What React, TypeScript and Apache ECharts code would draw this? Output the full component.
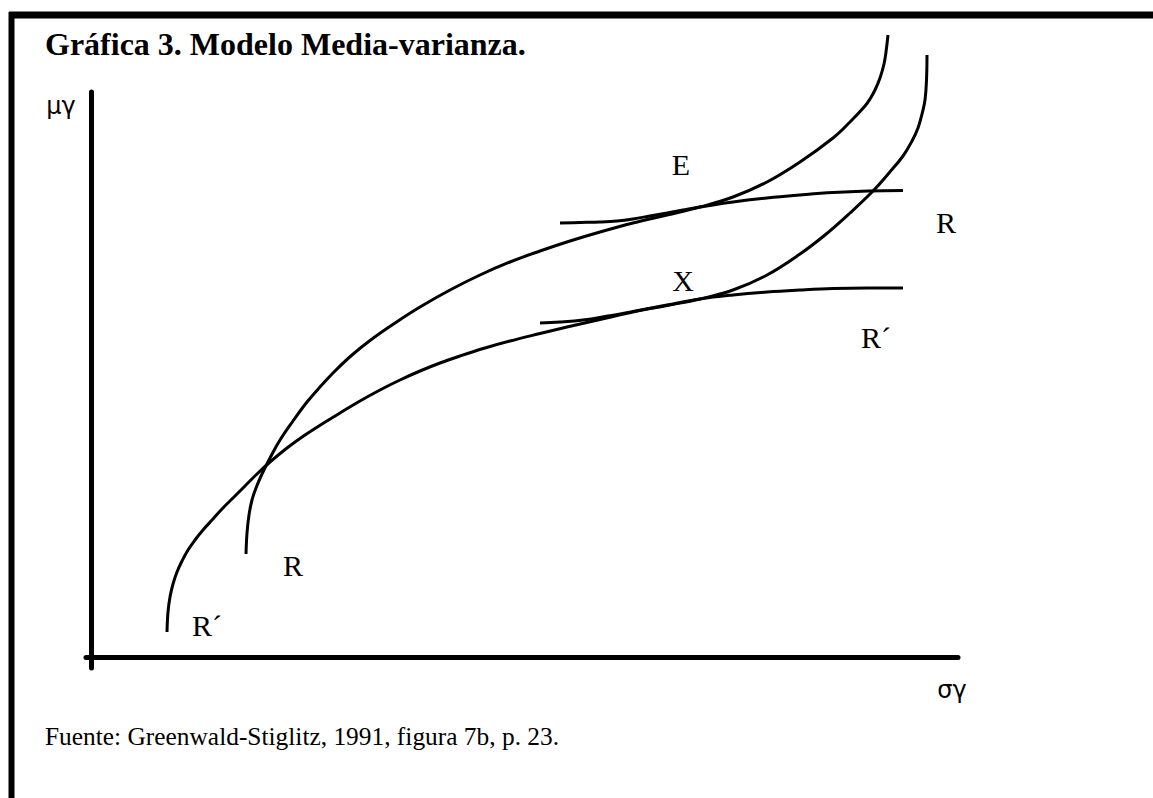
import React, { useEffect, useRef } from "react";
import * as echarts from "echarts";

// Conceptual diagram, arbitrary units: x = σγ, y = μγ (origin at the axes' corner)
const curveR: [number, number][] = [
  [155, 103], [156, 124], [158, 142], [161, 157], [165, 169], [171, 183], [179, 199],
  [189, 217], [202, 236], [216, 255], [229, 270], [244, 286], [261, 302], [281, 318],
  [304, 334], [329, 350], [359, 367], [389, 382], [419, 395], [449, 406], [479, 416],
  [509, 425], [542, 434], [576, 442], [609, 450], [642, 460], [676, 475], [709, 495],
  [742, 519], [759, 535], [774, 551], [779, 558], [784, 567], [789, 579], [793, 593],
  [795, 605], [797, 622],
];
const curveRPrime: [number, number][] = [
  [76, 25], [77, 45], [79, 60], [82, 73], [86, 85], [91, 96], [97, 107], [104, 117],
  [112, 127], [121, 137], [131, 148], [142, 159], [154, 171], [166, 183], [179, 195],
  [196, 209], [214, 222], [231, 233], [249, 244], [269, 256], [289, 267], [309, 277],
  [329, 286], [349, 294], [369, 301], [394, 309], [419, 316], [449, 323.5], [476, 330],
  [509, 337.5], [542, 345], [576, 351.5], [609, 358], [642, 367], [676, 382], [709, 403],
  [734, 422], [759, 444], [782, 466], [798, 484], [812, 501], [821, 516], [827, 529],
  [831, 543], [834, 557], [835.5, 577], [836, 602],
];
const lineE: [number, number][] = [
  [469, 434], [489, 434.5], [509, 435], [526, 436], [542, 438], [559, 441], [576, 444],
  [592, 447], [609, 450], [642, 455], [676, 459], [709, 462], [742, 464.5], [777, 466],
  [812, 466.5],
];
const lineX: [number, number][] = [
  [449, 334], [469, 335], [492, 337], [517, 341], [542, 345.5], [576, 352], [609, 358],
  [642, 362], [676, 365], [709, 367], [742, 368.5], [777, 369], [812, 369],
];

const titleText = "Gráfica 3. Modelo Media-varianza.";
const sourceText = "Fuente: Greenwald-Stiglitz, 1991, figura 7b, p. 23.";
const yName = "μγ";
const xName = "σγ";

const serif = "'Liberation Serif', 'Times New Roman', serif";

export default function App() {
  const ref = useRef<HTMLDivElement>(null);
  useEffect(() => {
    if (!ref.current) return;
    const chart = echarts.init(ref.current, undefined, { renderer: "svg" });
    const lineSeries = (name: string, data: [number, number][]) => ({
      name,
      type: "line",
      data,
      smooth: 0.4,
      showSymbol: false,
      symbol: "none",
      clip: false,
      lineStyle: { color: "#000", width: 3 },
      silent: true,
    });
    const label = (text: string, x: number, y: number, size = 30, family = serif) => ({
      type: "text",
      x,
      y,
      style: {
        text,
        fill: "#000",
        font: `${size}px ${family}`,
        align: "center",
        verticalAlign: "middle",
      },
    });
    chart.setOption({
      animation: false,
      backgroundColor: "#fff",
      title: [
        {
          text: titleText,
          left: 45,
          top: 28,
          padding: 0,
          textStyle: { fontFamily: serif, fontWeight: "bold", fontSize: 32, color: "#000" },
        },
        {
          text: sourceText,
          left: 45,
          top: 723,
          padding: 0,
          textStyle: { fontFamily: serif, fontWeight: "normal", fontSize: 25.4, color: "#000" },
        },
      ],
      grid: { left: 86, right: 195, top: 92, bottom: 130 },
      xAxis: {
        type: "value",
        min: -5,
        max: 867,
        axisLine: { show: true, onZero: true, lineStyle: { color: "#000", width: 5 } },
        axisTick: { show: false },
        axisLabel: { show: false },
        splitLine: { show: false },
      },
      yAxis: {
        type: "value",
        min: -11,
        max: 565,
        axisLine: { show: true, onZero: true, lineStyle: { color: "#000", width: 5 } },
        axisTick: { show: false },
        axisLabel: { show: false },
        splitLine: { show: false },
      },
      series: [
        lineSeries("R", curveR),
        lineSeries("R´", curveRPrime),
        lineSeries("E", lineE),
        lineSeries("X", lineX),
      ],
      graphic: [
        { type: "line", shape: { x1: 9, y1: 15, x2: 1153, y2: 15 }, style: { stroke: "#000", lineWidth: 7 } },
        { type: "line", shape: { x1: 11.5, y1: 12, x2: 11.5, y2: 798 }, style: { stroke: "#000", lineWidth: 6 } },
        label(yName, 61, 106, 24, "'DejaVu Sans', sans-serif"),
        label(xName, 952, 690, 24, "'DejaVu Sans', sans-serif"),
        label("E", 681, 164),
        label("X", 683, 280),
        label("R", 946, 222),
        label("R´", 876, 337),
        label("R", 293, 565),
        label("R´", 207, 625),
      ],
    });
    return () => chart.dispose();
  }, []);
  return (
    <div
      ref={ref}
      style={{ position: "fixed", left: 0, top: 0, width: 1153, height: 798, background: "#fff" }}
    />
  );
}
